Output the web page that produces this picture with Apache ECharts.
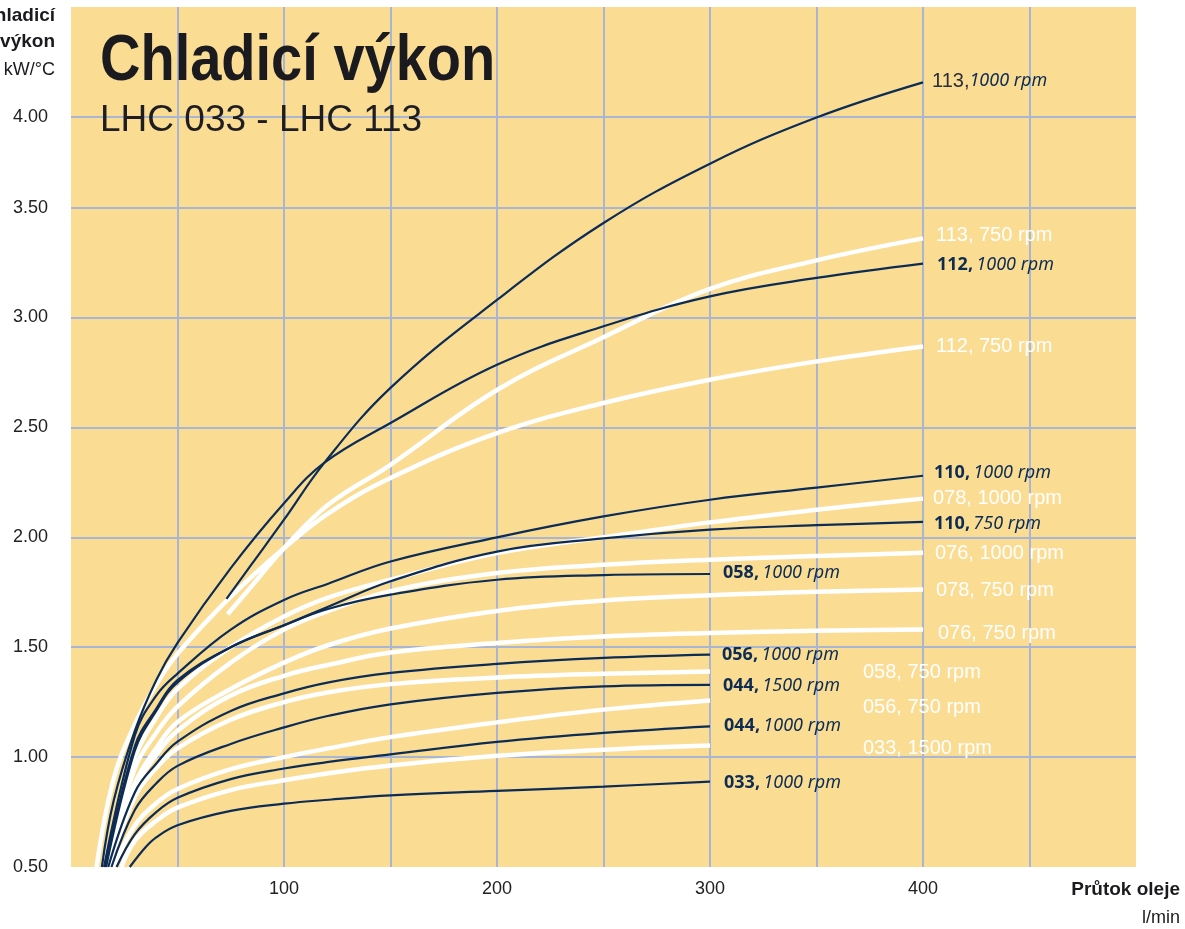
<!DOCTYPE html>
<html lang="cs">
<head>
<meta charset="utf-8">
<title>Chladicí výkon LHC 033 - LHC 113</title>
<script src="https://cdn.jsdelivr.net/npm/echarts@6/dist/echarts.min.js"></script>
<style>
  html, body { margin: 0; padding: 0; background: #fff; }
  #chart { width: 1185px; height: 929px; }
</style>
</head>
<body>
<div id="chart"></div>
<script>
// průtok oleje [l/min] -> chladicí výkon [kW/°C]
const xLabels = [100, 200, 300, 400];
// horni cara "4.00" je v predloze nakreslena o kus niz nez by odpovidalo meritku
const yTicks = [0.5, 1.0, 1.5, 2.0, 2.5, 3.0, 3.5, 3.914];
const yTickLabels = ['0.50', '1.00', '1.50', '2.00', '2.50', '3.00', '3.50', '4.00'];

const lhc113_1000 = [[73, 1.72], [85, 1.88], [100, 2.08], [119, 2.34], [150, 2.68], [200, 3.08], [250, 3.43], [300, 3.70], [350, 3.91], [400, 4.07]];
const lhc113_750  = [[73.5, 1.65], [85, 1.78], [100, 1.95], [121, 2.15], [150, 2.33], [200, 2.67], [250, 2.91], [300, 3.13], [350, 3.26], [400, 3.36]];
const lhc112_1000 = [[14.5, 0.5], [20, 0.8], [30, 1.12], [40, 1.35], [50, 1.52], [75, 1.86], [100, 2.155], [119, 2.34], [150, 2.52], [200, 2.785], [250, 2.96], [300, 3.096], [350, 3.18], [400, 3.245]];
const lhc112_750  = [[12, 0.5], [20, 0.9], [30, 1.15], [40, 1.33], [50, 1.47], [75, 1.73], [100, 1.95], [121, 2.11], [150, 2.27], [200, 2.474], [250, 2.611], [300, 2.717], [350, 2.80], [400, 2.868]];
const lhc110_1000 = [[15.5, 0.5], [30, 1.1], [40, 1.28], [50, 1.38], [75, 1.58], [100, 1.715], [121, 1.79], [150, 1.89], [200, 2.0], [250, 2.095], [300, 2.171], [350, 2.226], [400, 2.28]];
const lhc078_1000 = [[15.5, 0.5], [30, 1.0], [40, 1.18], [50, 1.31], [75, 1.5], [100, 1.64], [121, 1.727], [150, 1.807], [200, 1.928], [250, 2.0], [300, 2.068], [350, 2.125], [400, 2.176]];
const lhc110_750  = [[16, 0.5], [30, 1.05], [40, 1.22], [50, 1.35], [75, 1.5], [100, 1.60], [121, 1.685], [150, 1.80], [200, 1.935], [250, 1.995], [300, 2.035], [350, 2.055], [400, 2.07]];
const lhc076_1000 = [[16.5, 0.5], [30, 0.95], [40, 1.11], [50, 1.23], [75, 1.43], [100, 1.58], [121, 1.665], [150, 1.755], [200, 1.838], [250, 1.875], [300, 1.898], [350, 1.915], [400, 1.93]];
const lhc078_750  = [[16.5, 0.5], [30, 0.88], [40, 1.04], [50, 1.16], [75, 1.31], [100, 1.43], [121, 1.51], [150, 1.585], [200, 1.665], [250, 1.712], [300, 1.736], [350, 1.752], [400, 1.762]];
const lhc076_750  = [[17, 0.5], [30, 0.86], [40, 1.01], [50, 1.12], [75, 1.28], [100, 1.37], [121, 1.42], [150, 1.476], [200, 1.519], [250, 1.549], [300, 1.565], [350, 1.575], [400, 1.58]];
const lhc058_1000 = [[16.5, 0.5], [30, 1.03], [40, 1.21], [50, 1.34], [75, 1.5], [100, 1.60], [121, 1.675], [150, 1.739], [200, 1.807], [250, 1.828], [300, 1.833]];
const lhc056_1000 = [[17.5, 0.5], [30, 0.84], [40, 0.97], [50, 1.07], [75, 1.21], [100, 1.29], [121, 1.34], [150, 1.383], [200, 1.424], [250, 1.451], [300, 1.466]];
const lhc058_750  = [[18, 0.5], [30, 0.82], [40, 0.95], [50, 1.04], [75, 1.17], [100, 1.25], [121, 1.295], [150, 1.332], [200, 1.362], [250, 1.379], [300, 1.39]];
const lhc044_1500 = [[19, 0.5], [30, 0.76], [40, 0.88], [50, 0.96], [75, 1.06], [100, 1.135], [121, 1.188], [150, 1.24], [200, 1.292], [250, 1.322], [300, 1.329]];
const lhc056_750  = [[20, 0.5], [30, 0.69], [40, 0.79], [50, 0.855], [75, 0.945], [100, 1.0], [121, 1.04], [150, 1.091], [200, 1.158], [250, 1.216], [300, 1.258]];
const lhc044_1000 = [[21.4, 0.5], [30, 0.65], [40, 0.75], [50, 0.815], [75, 0.9], [100, 0.948], [121, 0.978], [150, 1.012], [200, 1.069], [250, 1.11], [300, 1.14]];
const lhc033_1500 = [[23.7, 0.5], [30, 0.62], [40, 0.71], [50, 0.77], [75, 0.85], [100, 0.895], [121, 0.927], [150, 0.962], [200, 1.006], [250, 1.034], [300, 1.053]];
const lhc033_1000 = [[27.6, 0.5], [35, 0.59], [40, 0.635], [50, 0.69], [75, 0.755], [100, 0.788], [121, 0.806], [150, 0.826], [200, 0.846], [250, 0.866], [300, 0.888]];

const NAVY = '#0c2c54';
const GRID = '#a9b6d3';
const FONT = 'Liberation Sans, Arial, sans-serif';
const LBL_FONT = 'Noto Sans, Open Sans, sans-serif';

let chart = echarts.init(document.getElementById('chart'), null, { renderer: 'canvas' });

// tmava krivka: cislo tucne, otacky kurzivou
function darkLine(name, data, num, rpm, off) {
  return {
    name: name, type: 'line', data: data, smooth: 0.4,
    symbol: 'none', silent: true, z: 3,
    lineStyle: { color: NAVY, width: 2.2 },
    endLabel: {
      show: true, distance: 0, offset: off,
      formatter: '{n|' + num + ',} {r|' + rpm + ' rpm}',
      rich: {
        n: { fontFamily: LBL_FONT, fontSize: 18, fontWeight: 'bold', color: NAVY },
        r: { fontFamily: LBL_FONT, fontSize: 18, fontStyle: 'italic', color: NAVY }
      }
    }
  };
}

function whiteLine(name, data, text, off) {
  return {
    name: name, type: 'line', data: data, smooth: 0.4,
    symbol: 'none', silent: true, z: 2,
    lineStyle: { color: '#ffffff', width: 4.5 },
    endLabel: {
      show: true, distance: 0, offset: off, formatter: text,
      fontFamily: FONT, fontSize: 20, color: '#ffffff'
    }
  };
}

let series = [
  whiteLine('113, 750 rpm', lhc113_750, '113, 750 rpm', [13, -3]),
  whiteLine('112, 750 rpm', lhc112_750, '112, 750 rpm', [13, 0]),
  whiteLine('078, 1000 rpm', lhc078_1000, '078, 1000 rpm', [10, 0]),
  whiteLine('076, 1000 rpm', lhc076_1000, '076, 1000 rpm', [12, 1]),
  whiteLine('078, 750 rpm', lhc078_750, '078, 750 rpm', [13, 1]),
  whiteLine('076, 750 rpm', lhc076_750, '076, 750 rpm', [15, 4]),
  whiteLine('058, 750 rpm', lhc058_750, '058, 750 rpm', [153, 1]),
  whiteLine('056, 750 rpm', lhc056_750, '056, 750 rpm', [153, 7]),
  whiteLine('033, 1500 rpm', lhc033_1500, '033, 1500 rpm', [153, 3]),
  {
    name: '113, 1000 rpm', type: 'line', data: lhc113_1000, smooth: 0.4,
    symbol: 'none', silent: true, z: 3,
    lineStyle: { color: NAVY, width: 2.2 },
    endLabel: {
      show: true, distance: 0, offset: [9, -1],
      formatter: '{g|113,}{r|1000 rpm}',
      rich: {
        g: { fontFamily: FONT, fontSize: 20, color: '#2a2f3a' },
        r: { fontFamily: LBL_FONT, fontSize: 18, fontStyle: 'italic', color: NAVY }
      }
    }
  },
  darkLine('112, 1000 rpm', lhc112_1000, '112', '1000', [14, 1]),
  darkLine('110, 1000 rpm', lhc110_1000, '110', '1000', [11, -3]),
  darkLine('110, 750 rpm', lhc110_750, '110', '750', [11, 2]),
  darkLine('058, 1000 rpm', lhc058_1000, '058', '1000', [13, -1]),
  darkLine('056, 1000 rpm', lhc056_1000, '056', '1000', [12, 0]),
  darkLine('044, 1500 rpm', lhc044_1500, '044', '1500', [13, 1]),
  darkLine('044, 1000 rpm', lhc044_1000, '044', '1000', [14, 0]),
  darkLine('033, 1000 rpm', lhc033_1000, '033', '1000', [14, 1])
];

let option = {
  animation: false,
  backgroundColor: '#ffffff',
  grid: {
    left: 71, right: 49, top: 7, bottom: 62,
    show: true, backgroundColor: '#fbdc93', borderWidth: 0
  },
  xAxis: {
    type: 'value', min: 0, max: 500, interval: 50,
    axisLine: { show: false },
    axisTick: { show: false },
    splitLine: { show: true, showMinLine: false, showMaxLine: false, lineStyle: { color: GRID, width: 2 } },
    axisLabel: {
      margin: 13, fontFamily: FONT, fontSize: 18, color: '#222',
      formatter: function (v) { return xLabels.indexOf(v) >= 0 ? String(v) : ''; }
    }
  },
  yAxis: {
    type: 'value', min: 0.5, max: 4.4127,
    axisLine: { show: false },
    axisTick: { show: false, customValues: yTicks },
    splitLine: { show: true, showMinLine: false, lineStyle: { color: GRID, width: 2 } },
    axisLabel: {
      customValues: yTicks, padding: [0, 0, 5, 0],
      margin: 23, fontFamily: FONT, fontSize: 18, color: '#222',
      formatter: function (v) {
        let i = yTicks.indexOf(v);
        return i >= 0 ? yTickLabels[i] : '';
      }
    }
  },
  graphic: [
    { type: 'text', x: 100, y: 62, scaleX: 0.875, silent: true, z: 100,
      style: { text: 'Chladicí výkon', fontFamily: FONT, fontSize: 64, fontWeight: 'bold', fill: '#1b1b1f', verticalAlign: 'middle' } },
    { type: 'text', x: 100, y: 121, silent: true, z: 100,
      style: { text: 'LHC 033 - LHC 113', fontFamily: FONT, fontSize: 37, fill: '#1e1e22', verticalAlign: 'middle' } },
    { type: 'text', x: 55, y: 16, silent: true,
      style: { text: 'Chladicí', fontFamily: FONT, fontSize: 19, fontWeight: 'bold', fill: '#1b1b1f', align: 'right', verticalAlign: 'middle' } },
    { type: 'text', x: 55, y: 42, silent: true,
      style: { text: 'výkon', fontFamily: FONT, fontSize: 19, fontWeight: 'bold', fill: '#1b1b1f', align: 'right', verticalAlign: 'middle' } },
    { type: 'text', x: 55, y: 70, silent: true,
      style: { text: 'kW/°C', fontFamily: FONT, fontSize: 18, fill: '#1b1b1f', align: 'right', verticalAlign: 'middle' } },
    { type: 'text', x: 1180, y: 890, silent: true,
      style: { text: 'Průtok oleje', fontFamily: FONT, fontSize: 19, fontWeight: 'bold', fill: '#1b1b1f', align: 'right', verticalAlign: 'middle' } },
    { type: 'text', x: 1180, y: 918, silent: true,
      style: { text: 'l/min', fontFamily: FONT, fontSize: 18, fill: '#1b1b1f', align: 'right', verticalAlign: 'middle' } }
  ],
  series: series
};

chart.setOption(option);
</script>
</body>
</html>
